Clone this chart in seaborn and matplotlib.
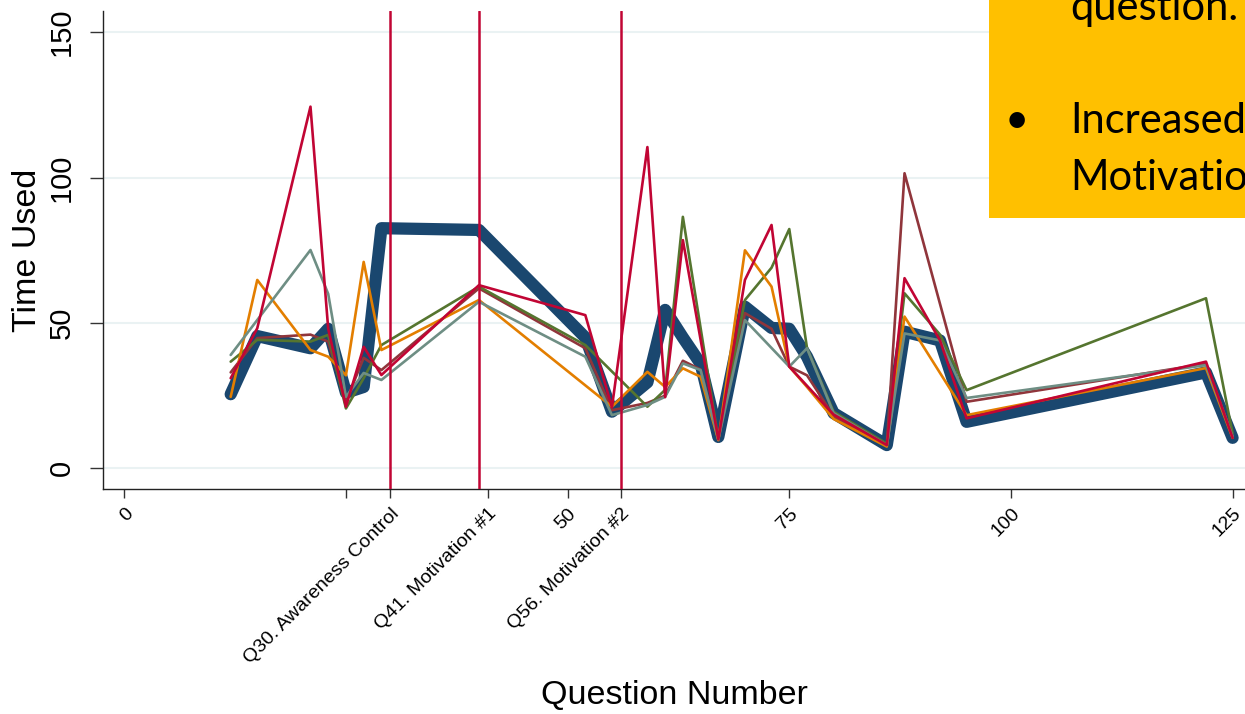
#!/usr/bin/env python3
"""Time used per question, one line per respondent group."""

import matplotlib.pyplot as plt
from matplotlib.patches import Rectangle
import pandas as pd
import seaborn as sns


# question numbers and seconds used, read per series
NAVY_X = [12, 15, 21, 23, 25, 27, 29, 40, 52, 55, 59, 61, 63, 65, 67, 70, 73, 75, 77, 80, 86, 88, 92, 95, 122, 125]
NAVY_Y = [25.5, 45.5, 41.3, 48, 26, 28, 82.6, 82, 45, 19.5, 29.6, 54.5, 45, 36, 10.8, 55.6, 48.3, 48, 38.4, 19, 8, 47, 44, 16, 33, 10.5]

MAROON_X = [12, 15, 21, 23, 25, 27, 29, 40, 52, 55, 59, 61, 63, 65, 67, 70, 73, 75, 77, 80, 86, 88, 95, 122, 125]
MAROON_Y = [33, 44.8, 46, 43.6, 23, 38, 33.8, 61.9, 41.3, 20, 22.5, 25, 37, 34, 10, 53.4, 48, 35, 32, 18, 8, 101.5, 22.9, 36, 11]

GREEN_X = [12, 15, 21, 23, 25, 27, 29, 40, 52, 59, 61, 63, 67, 70, 73, 75, 77, 80, 86, 88, 92, 95, 122, 125]
GREEN_Y = [36.7, 44.2, 43.6, 45.9, 20.6, 31, 42.4, 62.5, 42.4, 21.2, 27, 86.5, 10, 57.9, 69, 82.3, 41.4, 19.5, 8.5, 60.2, 46, 26.9, 58.5, 12]

ORANGE_X = [12, 15, 21, 23, 25, 27, 29, 40, 55, 59, 61, 63, 65, 67, 70, 73, 75, 77, 80, 86, 88, 95, 122, 125]
ORANGE_Y = [24.6, 64.8, 40.7, 38.4, 32, 71, 40.7, 57.9, 21.2, 33.2, 28, 34.4, 31.5, 9.7, 75, 62.5, 35, 28, 17, 7.5, 52.2, 18.3, 34.5, 10.5]

GRAY_X = [12, 21, 23, 25, 27, 29, 40, 52, 55, 59, 61, 63, 65, 67, 70, 75, 77, 80, 86, 88, 92, 95, 122, 125]
GRAY_Y = [39, 75.1, 60, 24.6, 32.8, 30.4, 57.3, 38.4, 18.3, 21.8, 24.6, 36.1, 33.8, 10, 51, 35, 41.3, 19, 8, 46.4, 44, 24.2, 35.5, 11]

RED_X = [12, 15, 21, 23, 25, 27, 29, 40, 52, 55, 59, 61, 63, 67, 70, 73, 75, 80, 86, 88, 92, 95, 122, 125]
RED_Y = [31, 48.2, 124.4, 48, 21.2, 41.8, 32.1, 63, 52.7, 21, 110.5, 24.5, 78.5, 10, 64.8, 83.7, 35, 18.5, 8, 65.4, 44, 17.2, 36.7, 10.5]

MARKED_QUESTIONS = [30, 40, 56]

X_TICKS = [0, 25, 30, 41, 50, 56, 75, 100, 125]
X_TICK_LABELS = ["0", "", "Q30. Awareness Control", "Q41. Motivation #1", "50",
                 "Q56. Motivation #2", "75", "100", "125"]
Y_TICKS = [0, 50, 100, 150]

NOTE_LINES = ["question.", "Increased", "Motivation"]


def setup_style():
    sns.set_theme(style="white")
    plt.rcParams["font.family"] = ["Liberation Sans", "DejaVu Sans"]
    plt.rcParams["text.color"] = "black"
    plt.rcParams["axes.labelcolor"] = "black"
    plt.rcParams["xtick.color"] = "black"
    plt.rcParams["ytick.color"] = "black"


def build_frame():
    series = [
        ("navy", NAVY_X, NAVY_Y),
        ("maroon", MAROON_X, MAROON_Y),
        ("green", GREEN_X, GREEN_Y),
        ("orange", ORANGE_X, ORANGE_Y),
        ("gray", GRAY_X, GRAY_Y),
        ("red", RED_X, RED_Y),
    ]
    rows = []
    for name, xs, ys in series:
        for x, y in zip(xs, ys):
            rows.append((name, x, y))
    return pd.DataFrame(rows, columns=["group", "question", "time"])


def plot():
    data = build_frame()
    colors = {
        "navy": "#1a476f",
        "maroon": "#90353b",
        "green": "#55752f",
        "orange": "#e37e00",
        "gray": "#6e8e84",
        "red": "#c10534",
    }
    widths = {"navy": 8.8, "maroon": 1.9, "green": 1.9, "orange": 1.9, "gray": 1.9, "red": 1.9}

    fig = plt.figure(figsize=(12.45, 7.14), dpi=100)
    ax = fig.add_axes([103 / 1245, 1 - 489 / 714, 1 - 103 / 1245, (489 - 11) / 714])

    for y in Y_TICKS:
        ax.axhline(y, color="#eaf2f3", linewidth=1.5, zorder=0)

    for name in colors:
        sub = data[data["group"] == name]
        sns.lineplot(
            data=sub,
            x="question",
            y="time",
            sort=False,
            estimator=None,
            color=colors[name],
            linewidth=widths[name],
            solid_joinstyle="round",
            solid_capstyle="round",
            ax=ax,
        )

    for q in MARKED_QUESTIONS:
        ax.axvline(q, color="#c10534", linewidth=1.8, zorder=3)

    ax.set_xlim(-2.4, 126.4)
    ax.set_ylim(-7.1, 157.3)
    ax.set_xticks(X_TICKS)
    ax.set_xticklabels(X_TICK_LABELS, rotation=45, ha="right", rotation_mode="anchor", fontsize=14)
    ax.set_yticks(Y_TICKS)
    ax.set_yticklabels([str(v) for v in Y_TICKS], rotation=90, va="center", fontsize=21)
    ax.tick_params(axis="x", length=6.5, width=1, color="#333333", pad=5, bottom=True)
    ax.tick_params(axis="y", length=9.5, width=1, color="#333333", pad=10, left=True)
    for side in ["top", "right"]:
        ax.spines[side].set_visible(False)
    for side in ["left", "bottom"]:
        ax.spines[side].set_color("#222222")
        ax.spines[side].set_linewidth(1.0)

    ax.set_xlabel("Question Number", fontsize=24.5)
    ax.set_ylabel("Time Used", fontsize=24.5)
    ax.xaxis.set_label_coords(0.5, -0.431)
    ax.xaxis.label.set_va("center")
    ax.yaxis.set_label_coords(-0.0657, 0.5)
    ax.yaxis.label.set_va("center")

    # highlight note box cut off at the top right corner
    box = Rectangle((989 / 1245, 1 - 218 / 714), 1 - 989 / 1245, 218 / 714,
                    transform=fig.transFigure, facecolor="#ffc000", edgecolor="none", zorder=5)
    fig.add_artist(box)
    note_font = ["Lato", "DejaVu Sans"]
    fig.text(1070 / 1245, 1 - 20 / 714, NOTE_LINES[0], fontsize=30, family=note_font,
             va="baseline", ha="left", zorder=6)
    fig.text(1017 / 1245, 1 - 133 / 714, "\u2022", fontsize=30, family=note_font,
             va="baseline", ha="center", zorder=6)
    fig.text(1070 / 1245, 1 - 133 / 714, NOTE_LINES[1], fontsize=30, family=note_font,
             va="baseline", ha="left", zorder=6)
    fig.text(1070 / 1245, 1 - 190 / 714, NOTE_LINES[2], fontsize=30, family=note_font,
             va="baseline", ha="left", zorder=6)

    fig.savefig("out.png", dpi=100)
    plt.close(fig)


def main():
    setup_style()
    plot()


if __name__ == "__main__":
    main()
